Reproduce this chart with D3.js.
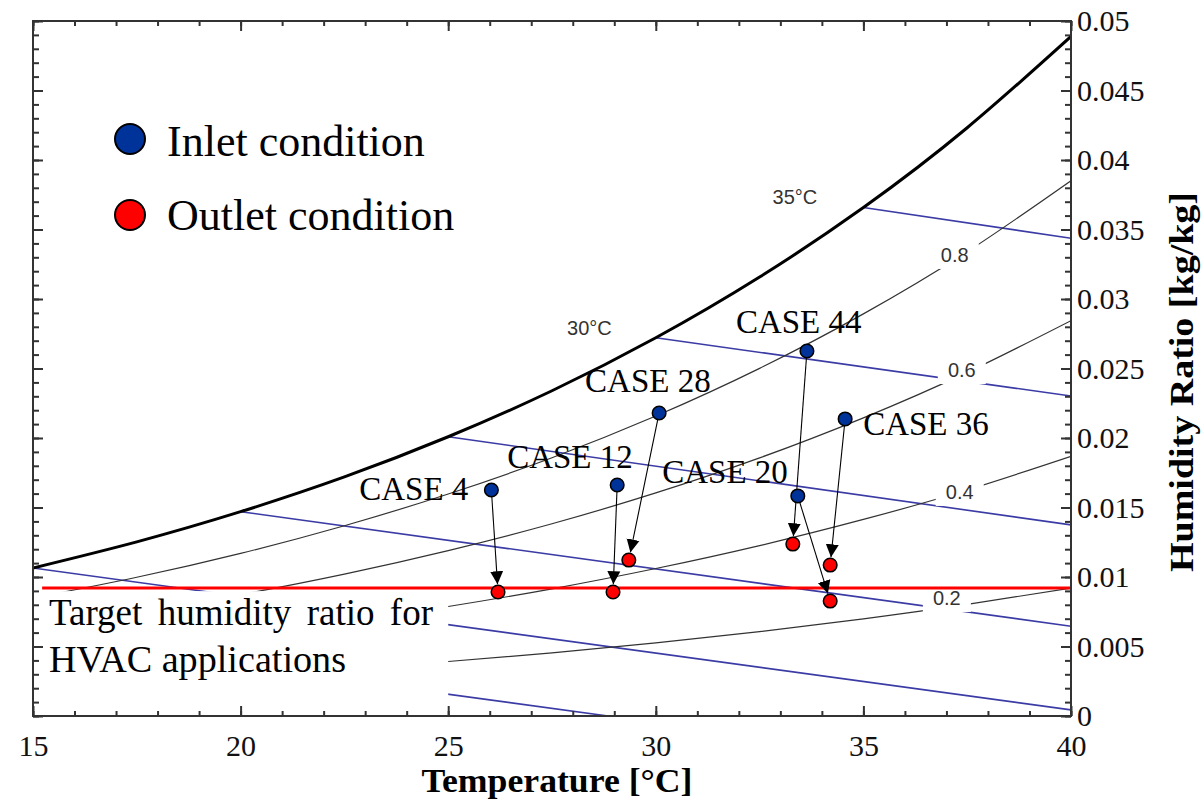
<!DOCTYPE html>
<html>
<head>
<meta charset="utf-8">
<script src="https://cdn.jsdelivr.net/npm/d3@7"></script>
<style>
  body { margin: 0; background: #fff; }
  svg { display: block; }
  .serif { font-family: "Liberation Serif", "Times New Roman", serif; }
  .sans { font-family: "Liberation Sans", Arial, sans-serif; }
</style>
</head>
<body>
<div id="chart"></div>
<script>
// psychrometric chart data
var tempGrid = [15, 17.5, 20, 22.5, 25, 27.5, 30, 32.5, 35, 37.5, 40];
var satW  = [0.01065, 0.01253, 0.01470, 0.01720, 0.02009, 0.02340, 0.02721, 0.03158, 0.03658, 0.04232, 0.04889];
var rh80W = [0.00849, 0.00998, 0.01170, 0.01369, 0.01597, 0.01858, 0.02158, 0.02501, 0.02893, 0.03340, 0.03851];
var rh60W = [0.00635, 0.00746, 0.00874, 0.01021, 0.01190, 0.01383, 0.01605, 0.01857, 0.02145, 0.02472, 0.02844];
var rh40W = [0.00422, 0.00495, 0.00580, 0.00677, 0.00788, 0.00915, 0.01061, 0.01226, 0.01414, 0.01626, 0.01868];
var rh20W = [0.00210, 0.00247, 0.00289, 0.00337, 0.00392, 0.00454, 0.00526, 0.00607, 0.00699, 0.00803, 0.00920];

// wet bulb lines [T, w] start / end
var wb10 = [[10, 0.00766], [28.85, 0]];
var wb15 = [[15, 0.01065], [40, 0.00044]];
var wb20 = [[20, 0.01470], [40, 0.00646]];
var wb25 = [[25, 0.02009], [40, 0.01375]];
var wb30 = [[30, 0.02721], [40, 0.02302]];
var wb35 = [[35, 0.03658], [40, 0.03437]];

var rhLabels = ["0.2", "0.4", "0.6", "0.8"];
var rhLabelT = [37.01, 37.32, 37.37, 37.20];
var rhLabelW = [0.00849, 0.01612, 0.02489, 0.03317];

var wbLabels = ["30°C", "35°C"];
var wbLabelT = [28.40, 33.35];
var wbLabelW = [0.02791, 0.03734];

var targetW = 0.0092;

var cases   = ["CASE 4", "CASE 12", "CASE 20", "CASE 28", "CASE 36", "CASE 44"];
var inletT  = [26.04, 29.07, 33.42, 30.08, 34.56, 33.64];
var inletW  = [0.01626, 0.01662, 0.01583, 0.02180, 0.02137, 0.02626];
var outletT = [26.20, 28.97, 34.20, 29.35, 34.20, 33.30];
var outletW = [0.00892, 0.00892, 0.00827, 0.01122, 0.01086, 0.01237];

var xTicks = [15, 20, 25, 30, 35, 40];
var yTicks = [0, 0.005, 0.01, 0.015, 0.02, 0.025, 0.03, 0.035, 0.04, 0.045, 0.05];

// label placement (pixels, relative to inlet dot)
var caseLabelPos = {
  "CASE 4":  {dx: -23, dy: 10, anchor: "end"},
  "CASE 12": {dx: -110, dy: -17, anchor: "start"},
  "CASE 20": {dx: -10, dy: -13, anchor: "end"},
  "CASE 28": {dx: -74, dy: -21, anchor: "start"},
  "CASE 36": {dx: 18, dy: 16, anchor: "start"},
  "CASE 44": {dx: -71, dy: -18, anchor: "start"}
};

var svgWidth = 1204, svgHeight = 808;
var margin = {top: 21, right: 133, bottom: 92, left: 33};
var width = svgWidth - margin.left - margin.right;
var height = svgHeight - margin.top - margin.bottom;

var svg = d3.select("#chart").append("svg")
  .attr("width", svgWidth)
  .attr("height", svgHeight);

var g = svg.append("g")
  .attr("transform", `translate(${margin.left}, ${margin.top})`);

var x = d3.scaleLinear().domain([15, 40]).range([0, width]);
var y = d3.scaleLinear().domain([0, 0.05]).range([height, 0]);

svg.append("defs").append("clipPath").attr("id", "plotclip")
  .append("rect").attr("width", width).attr("height", height);

var defs = svg.select("defs");
defs.append("marker")
  .attr("id", "arrow")
  .attr("viewBox", "0 0 10 10")
  .attr("refX", 10).attr("refY", 5)
  .attr("markerWidth", 13).attr("markerHeight", 14)
  .attr("markerUnits", "userSpaceOnUse")
  .attr("orient", "auto")
  .append("path").attr("d", "M0,0 L10,5 L0,10 z").attr("fill", "#000");

var curves = g.append("g").attr("clip-path", "url(#plotclip)");

var curveLine = d3.line()
  .x(d => x(d[0]))
  .y(d => y(d[1]))
  .curve(d3.curveNatural);

var straight = d3.line().x(d => x(d[0])).y(d => y(d[1]));

// wet bulb lines
[wb10, wb15, wb20, wb25, wb30, wb35].forEach(function(pts) {
  curves.append("path")
    .attr("d", straight(pts))
    .attr("fill", "none")
    .attr("stroke", "#3b3ba6")
    .attr("stroke-width", 1.6);
});

// relative humidity lines
[rh20W, rh40W, rh60W, rh80W].forEach(function(ws) {
  curves.append("path")
    .attr("d", curveLine(tempGrid.map((t, i) => [t, ws[i]])))
    .attr("fill", "none")
    .attr("stroke", "#333")
    .attr("stroke-width", 1.2);
});

// saturation line
curves.append("path")
  .attr("d", curveLine(tempGrid.map((t, i) => [t, satW[i]])))
  .attr("fill", "none")
  .attr("stroke", "#000")
  .attr("stroke-width", 3);

// rh labels with white boxes
rhLabels.forEach(function(lab, i) {
  var cx = x(rhLabelT[i]), cy = y(rhLabelW[i]);
  g.append("rect")
    .attr("x", cx - 24).attr("y", cy - 14)
    .attr("width", 48).attr("height", 28)
    .attr("fill", "#fff");
  g.append("text")
    .attr("class", "sans")
    .attr("x", cx).attr("y", cy)
    .attr("dy", "0.36em")
    .attr("text-anchor", "middle")
    .style("font-size", "20px")
    .style("fill", "#333")
    .text(lab);
});

wbLabels.forEach(function(lab, i) {
  g.append("text")
    .attr("class", "sans")
    .attr("x", x(wbLabelT[i])).attr("y", y(wbLabelW[i]))
    .attr("dy", "0.36em")
    .attr("text-anchor", "middle")
    .style("font-size", "20px")
    .style("fill", "#333")
    .text(lab);
});

// target humidity text box
g.append("rect")
  .attr("x", 1).attr("y", y(targetW) + 3)
  .attr("width", x(25) - 1)
  .attr("height", height - y(targetW) - 4)
  .attr("fill", "#fff");

function fitWords(sel, w) {
  var len = sel.node().getComputedTextLength();
  var n = sel.text().split(" ").length - 1;
  if (n > 0) sel.attr("word-spacing", (w - len) / n);
}

var t1 = g.append("text").attr("class", "serif")
  .attr("x", 16).attr("y", 604)
  .style("font-size", "37px")
  .text("Target humidity ratio for");
fitWords(t1, 384);
g.append("text").attr("class", "serif")
  .attr("x", 16).attr("y", 651)
  .attr("textLength", 297)
  .attr("lengthAdjust", "spacingAndGlyphs")
  .style("font-size", "37px")
  .text("HVAC applications");

// target line
g.append("line")
  .attr("x1", x(15.22)).attr("x2", x(40))
  .attr("y1", y(targetW)).attr("y2", y(targetW))
  .attr("stroke", "#ff0000")
  .attr("stroke-width", 3);

// arrows inlet -> outlet
var r = 6.8;
cases.forEach(function(c, i) {
  var x1 = x(inletT[i]), y1 = y(inletW[i]);
  var x2 = x(outletT[i]), y2 = y(outletW[i]);
  var dx = x2 - x1, dy = y2 - y1, len = Math.sqrt(dx * dx + dy * dy);
  var k = (len - r - 1) / len;
  g.append("line")
    .attr("x1", x1).attr("y1", y1)
    .attr("x2", x1 + dx * k).attr("y2", y1 + dy * k)
    .attr("stroke", "#000")
    .attr("stroke-width", 1.1)
    .attr("marker-end", "url(#arrow)");
});

g.selectAll(".outlet")
  .data(cases)
  .enter()
  .append("circle")
  .attr("class", "outlet")
  .attr("cx", (d, i) => x(outletT[i]))
  .attr("cy", (d, i) => y(outletW[i]))
  .attr("r", r)
  .attr("fill", "#ff0000")
  .attr("stroke", "#000")
  .attr("stroke-width", 1.5);

g.selectAll(".inlet")
  .data(cases)
  .enter()
  .append("circle")
  .attr("class", "inlet")
  .attr("cx", (d, i) => x(inletT[i]))
  .attr("cy", (d, i) => y(inletW[i]))
  .attr("r", r)
  .attr("fill", "#003399")
  .attr("stroke", "#000")
  .attr("stroke-width", 1.5);

g.selectAll(".caselabel")
  .data(cases)
  .enter()
  .append("text")
  .attr("class", "serif caselabel")
  .attr("x", (d, i) => x(inletT[i]) + caseLabelPos[d].dx)
  .attr("y", (d, i) => y(inletW[i]) + caseLabelPos[d].dy)
  .attr("text-anchor", d => caseLabelPos[d].anchor)
  .style("font-size", "33px")
  .style("fill", "#000")
  .text(d => d);

// legend
var legend = svg.append("g");
[["Inlet condition", "#003399"], ["Outlet condition", "#ff0000"]].forEach(function(item, i) {
  legend.append("circle")
    .attr("cx", 130).attr("cy", 139 + i * 76)
    .attr("r", 15)
    .attr("fill", item[1])
    .attr("stroke", "#000")
    .attr("stroke-width", 2);
  legend.append("text")
    .attr("class", "serif")
    .attr("x", 167).attr("y", 156 + i * 74)
    .style("font-size", "44px")
    .text(item[0]);
});

// frame and axes
g.append("rect")
  .attr("width", width).attr("height", height)
  .attr("fill", "none")
  .attr("stroke", "#333")
  .attr("stroke-width", 2);

function styleAxis(sel) {
  sel.select(".domain").remove();
  sel.selectAll("line").attr("stroke", "#333").attr("stroke-width", 2);
  sel.selectAll("text")
    .attr("class", "serif")
    .style("font-size", "30px")
    .style("fill", "#111");
}

var xMinor = d3.range(15, 40.01, 1);
var yMinor = d3.range(0, 0.05001, 0.001);

g.append("g").attr("transform", `translate(0, ${height})`)
  .call(d3.axisBottom(x).tickValues(xMinor).tickSizeInner(-5).tickSizeOuter(0).tickFormat(""))
  .call(styleAxis);
g.append("g").attr("transform", `translate(0, ${height})`)
  .call(d3.axisBottom(x).tickValues(xTicks).tickSizeInner(-10).tickSizeOuter(0).tickPadding(19).tickFormat(d3.format("d")))
  .call(styleAxis);

g.append("g")
  .call(d3.axisTop(x).tickValues(xMinor).tickSizeInner(-5).tickSizeOuter(0).tickFormat(""))
  .call(styleAxis);
g.append("g")
  .call(d3.axisTop(x).tickValues(xTicks).tickSizeInner(-10).tickSizeOuter(0).tickFormat(""))
  .call(styleAxis);

g.append("g")
  .call(d3.axisLeft(y).tickValues(yMinor).tickSizeInner(-6).tickSizeOuter(0).tickFormat(""))
  .call(styleAxis);
g.append("g")
  .call(d3.axisLeft(y).tickValues(yTicks).tickSizeInner(-10).tickSizeOuter(0).tickFormat(""))
  .call(styleAxis);

g.append("g").attr("transform", `translate(${width}, 0)`)
  .call(d3.axisRight(y).tickValues(yMinor).tickSizeInner(-6).tickSizeOuter(0).tickFormat(""))
  .call(styleAxis);
g.append("g").attr("transform", `translate(${width}, 0)`)
  .call(d3.axisRight(y).tickValues(yTicks).tickSizeInner(-10).tickSizeOuter(0).tickPadding(6).tickFormat(d => d3.format("")(+d.toFixed(3))))
  .call(styleAxis);

// axis titles
svg.append("text")
  .attr("class", "serif")
  .attr("x", 557).attr("y", 792)
  .attr("text-anchor", "middle")
  .attr("textLength", 271)
  .attr("lengthAdjust", "spacingAndGlyphs")
  .style("font-size", "33px")
  .style("font-weight", "bold")
  .text("Temperature [°C]");

svg.append("text")
  .attr("class", "serif")
  .attr("transform", "translate(1193, 382) rotate(-90)")
  .attr("text-anchor", "middle")
  .attr("textLength", 380)
  .attr("lengthAdjust", "spacingAndGlyphs")
  .style("font-size", "34px")
  .style("font-weight", "bold")
  .text("Humidity Ratio [kg/kg]");
</script>
</body>
</html>
